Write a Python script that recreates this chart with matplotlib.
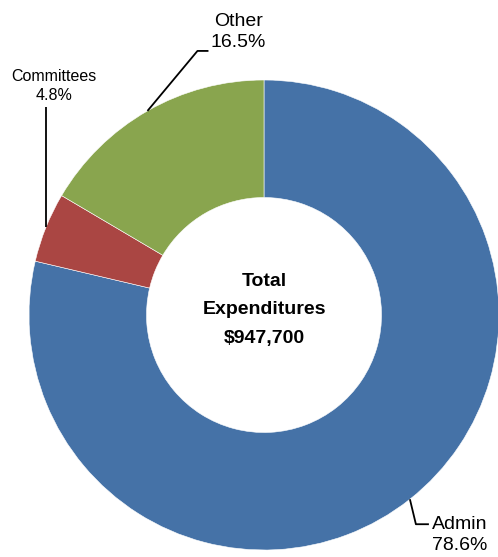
import numpy as np
import matplotlib
matplotlib.use("Agg")
import matplotlib.pyplot as plt

categories = ["Admin", "Committees", "Other"]
shares = [78.6, 4.8, 16.5]
colors = ["#4572A7", "#AA4643", "#89A54E"]
total_label = "$947,700"

W, H = 498, 557
fig = plt.figure(figsize=(W / 100, H / 100), dpi=100)
ax = fig.add_axes([0, 0, 1, 1])

cx, cy, R = 264, H - 315, 235
wedges, _ = ax.pie(shares, colors=colors, startangle=90, counterclock=False,
                   center=(cx, cy), radius=R, frame=True,
                   wedgeprops=dict(width=R * 0.5, edgecolor="white", linewidth=0.4))
ax.set_xlim(0, W)
ax.set_ylim(0, H)
ax.set_aspect("equal")
ax.axis("off")

font = "Liberation Sans"
ax.text(cx, cy + 5, "Total\nExpenditures\n" + total_label, ha="center", va="center",
        fontsize=14, fontweight="bold", family=font, linespacing=1.9, color="#000000")

def edge_point(w):
    a = np.deg2rad((w.theta1 + w.theta2) / 2)
    return cx + R * np.cos(a), cy + R * np.sin(a)

# leader-line geometry (offsets in pixels from the wedge's outer mid point)
label_cfg = {
    "Other": dict(path=[(50, 60), (61, 60)], text=(91, 79), size=14, ha="center"),
    "Committees": dict(path=[(0, 120)], text=(8, 141), size=11.5, ha="center"),
    "Admin": dict(path=[(6, -25), (19, -25)], text=(22, -36), size=14, ha="left"),
}

for w, name, val in zip(wedges, categories, shares):
    x0, y0 = edge_point(w)
    cfg = label_cfg[name]
    xs = [x0] + [x0 + dx for dx, dy in cfg["path"]]
    ys = [y0] + [y0 + dy for dx, dy in cfg["path"]]
    ax.plot(xs, ys, color="black", lw=1.3, solid_capstyle="butt")
    tx, ty = x0 + cfg["text"][0], y0 + cfg["text"][1]
    ax.text(tx, ty, f"{name}\n{val:.1f}%", ha=cfg["ha"], va="center",
            fontsize=cfg["size"], family=font, linespacing=1.35, color="#000000")

fig.savefig("out.png", dpi=100)
